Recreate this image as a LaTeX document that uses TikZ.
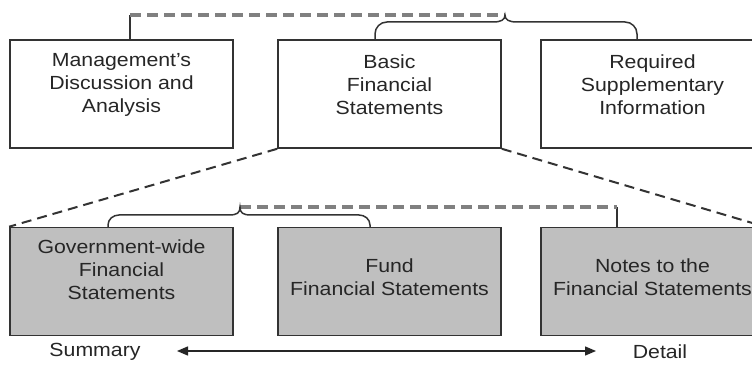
\documentclass[tikz,border=0pt]{standalone}
\usepackage{fontspec}
\setmainfont{Liberation Sans}[FakeStretch=1.12]
\usetikzlibrary{arrows.meta}
\begin{document}
\begin{tikzpicture}[x=1pt,y=1pt,
  box/.style={draw=black!80, line width=1.6pt, minimum width=223pt, minimum height=108pt, inner sep=0pt, anchor=center},
  gbox/.style={box, fill=black!25},
  lbl/.style={align=center, font=\fontsize{19}{23}\selectfont, text=black!85, inner sep=0pt},
  gdash/.style={draw=black!50, line width=3.2pt, dash pattern=on 11pt off 6pt},
  ddash/.style={draw=black!80, line width=2pt, dash pattern=on 10pt off 6pt},
  conn/.style={draw=black!80, line width=1.5pt},
  dirarrow/.style={draw=black!85, line width=1.4pt, {Triangle[length=11pt,width=9pt]}-{Triangle[length=11pt,width=9pt]}},
]
\useasboundingbox (0,0) rectangle (752,366);
\clip (0,0) rectangle (752,366);
\fill[white] (0,0) rectangle (752,366);

% top row
\node[box] (mda) at (121.5,272) {};
\node[box] (bfs) at (389.5,272) {};
\node[box] (rsi) at (652.5,272) {};
\node[lbl] (mdat) at (121.5,281) {Management's\\Discussion and\\Analysis};
\node[lbl] (bfst) at (389.5,281) {Basic\\Financial\\Statements};
\node[lbl] (rsit) at (652.5,281) {Required\\Supplementary\\Information};

% bottom row
\node[gbox] (gw) at (121.5,84.5) {};
\node[gbox] (fund) at (389.5,84.5) {};
\node[gbox] (notes) at (652.5,84.5) {};
\node[lbl] (gwt) at (121.5,96) {Government-wide\\Financial\\Statements};
\node[lbl] (fundt) at (389.5,89) {Fund\\Financial Statements};
\node[lbl] (notest) at (652.5,89) {Notes to the\\Financial Statements};

% expansion lines
\draw[ddash] (bfs.south west) -- (gw.north west);
\draw[ddash] (bfs.south east) -- (notes.north east);

% top brace and dashed link
\coordinate (tl) at (130,351);
\coordinate (mdaup) at (130,326);
\coordinate (tbl) at (375,326);
\coordinate (tbr) at (637,326);
\coordinate (ttip) at (505,351);
\draw[conn] (mdaup) -- (tl);
\draw[gdash] (tl) -- (ttip);
\draw[conn] (tbl) -- ++(0,6) to[out=90,in=180] ++(12,12) -- (493,344)
  .. controls (501,344) and (505,346) .. (ttip)
  .. controls (505,346) and (509,344) .. (517,344)
  -- (625,344) to[out=0,in=90] ++(12,-12) -- (tbr);

% bottom brace and dashed link
\coordinate (br) at (617,159);
\coordinate (notesup) at (617,138);
\coordinate (bbl) at (108,138);
\coordinate (bbr) at (370,138);
\coordinate (btip) at (240,159);
\draw[conn] (notesup) -- (br);
\draw[gdash] (btip) -- (br);
\draw[conn] (bbl) -- ++(0,3) to[out=90,in=180] ++(11,10) -- (229,151)
  .. controls (237,151) and (240,153) .. (btip)
  .. controls (240,153) and (243,151) .. (251,151)
  -- (359,151) to[out=0,in=90] ++(11,-10) -- (bbr);

% summary / detail
\node[lbl] (sum) at (95,14) {Summary};
\node[lbl] (det) at (660,14) {Detail};
\coordinate (al) at (177,15);
\coordinate (ar) at (596,15);
\draw[dirarrow] (al) -- (ar);
\end{tikzpicture}
\end{document}
